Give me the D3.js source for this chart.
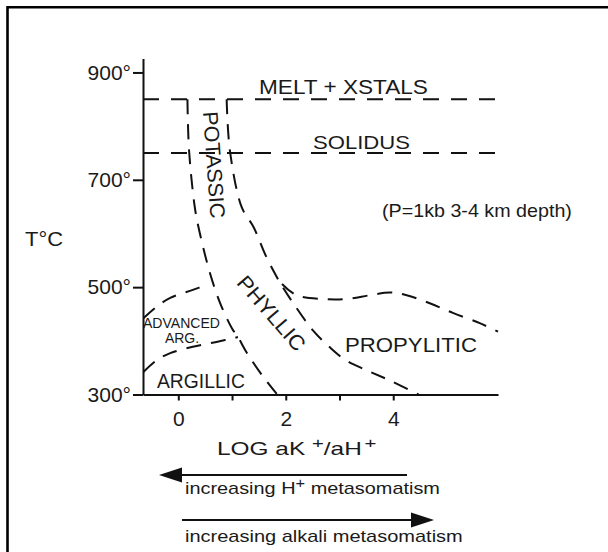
<!DOCTYPE html>
<html>
<head>
<meta charset="utf-8">
<script src="https://cdn.jsdelivr.net/npm/d3@7"></script>
<style>
  html, body { margin: 0; padding: 0; background: #fff; }
  svg { display: block; }
  text { font-family: "Liberation Sans", Arial, Helvetica, sans-serif; fill: #1a1a1a; }
</style>
</head>
<body>
<svg id="chart" width="608" height="552"></svg>
<script>
// Temperature (°C) and log activity ratio ticks
const tempTicks = [300, 500, 700, 900];
const logTicks = [0, 1, 2, 3, 4];
const logLabels = ["0", "", "2", "", "4"];

// Horizontal phase limits (°C)
const meltT = 850;
const solidusT = 750;

// Field boundaries as [log aK+/aH+, T°C]
const potassicLeft = [[0.17, 850], [0.2, 755], [0.31, 647], [0.4, 601], [0.59, 526], [0.78, 470], [1.0, 423], [1.11, 407], [1.28, 377], [1.58, 333], [1.84, 300]];
const potassicRight = [[0.9, 850], [0.96, 755], [1.18, 649], [1.4, 612], [1.64, 556], [1.89, 509], [2.14, 470], [2.51, 419], [2.82, 388], [3.13, 363], [3.51, 345], [3.94, 326], [4.47, 300]];
const propyliticTop = [[1.93, 506], [2.2, 485], [2.69, 478], [3.13, 478], [3.57, 485], [3.94, 490], [4.25, 485], [4.68, 470], [5.11, 452], [5.61, 433], [5.95, 417]];
const advArgTop = [[-0.65, 442], [-0.4, 464], [-0.15, 480], [0.27, 495], [0.55, 505]];
const advArgBottom = [[-0.65, 342], [-0.4, 364], [-0.15, 377], [0.27, 389], [0.71, 398], [1.11, 407]];

const svg = d3.select("#chart");

const x = d3.scaleLinear().domain([-0.657, 5.95]).range([143, 498]);
const y = d3.scaleLinear().domain([300, 926]).range([394.5, 58.5]);

// Frame
svg.append("path")
  .attr("d", "M7.5,552 V7.2 H608")
  .attr("fill", "none").attr("stroke", "#000").attr("stroke-width", 2.6);

// Text helper: places a label and optionally stretches it to a given width
function put(str, px, py, size, width, anchor = "start", rot = 0) {
  const g = svg.append("g").attr("transform", `translate(${px},${py}) rotate(${rot})`);
  const t = g.append("text").attr("font-size", size).attr("text-anchor", anchor);
  if (typeof str === "string") t.text(str); else str(t);
  if (width) {
    const w = t.node().getComputedTextLength();
    t.attr("transform", `scale(${width / w},1)`);
  }
  return t;
}

// Axes
const yAxis = d3.axisLeft(y).tickValues(tempTicks).tickFormat(d => d + "°")
  .tickSize(10).tickSizeOuter(0).tickPadding(2);
const xAxis = d3.axisBottom(x).tickValues(logTicks).tickFormat((d, i) => logLabels[i])
  .tickSize(6).tickSizeOuter(0).tickPadding(11);

const gy = svg.append("g").attr("transform", `translate(${x.range()[0]},0)`).call(yAxis);
const gx = svg.append("g").attr("transform", `translate(0,${y(300)})`).call(xAxis);
[gy, gx].forEach(g => {
  g.select(".domain").attr("stroke", "#111").attr("stroke-width", 2);
  g.selectAll(".tick line").attr("stroke", "#111").attr("stroke-width", 2);
  g.selectAll(".tick text").attr("font-size", 21).attr("fill", "#1a1a1a")
    .style("font-family", '"Liberation Sans", Arial, Helvetica, sans-serif');
});

// Boundaries
const line = d3.line().x(d => x(d[0])).y(d => y(d[1])).curve(d3.curveCatmullRom.alpha(0.5));
const dashed = (data, dash = "15,10") => svg.append("path").datum(data)
  .attr("d", line).attr("fill", "none").attr("stroke", "#111")
  .attr("stroke-width", 2).attr("stroke-dasharray", dash);

const xEnd = x.invert(500);
dashed([[x.domain()[0], meltT], [xEnd, meltT]], "16,12");
dashed([[x.domain()[0], solidusT], [xEnd, solidusT]], "16,12");
dashed(potassicLeft);
dashed(potassicRight);
dashed(propyliticTop);
dashed(advArgTop);
dashed(advArgBottom);

// Field labels
put("MELT + XSTALS", 259, 94, 20, 169);
put("SOLIDUS", 313, 149, 19, 97);
put("(P=1kb 3-4 km depth)", 382, 217, 18, 190);
put("T°C", 25, 246, 21, 38);
put("POTASSIC", 203, 112, 21, 107, "start", 86);
put("PHYLLIC", 266, 318, 21, 92, "middle", 49);
put("PROPYLITIC", 345, 352, 21, 132);
put("ADVANCED", 143, 328, 14, 77);
put("ARG.", 182, 343, 14, null, "middle");
put("ARGILLIC", 157, 388, 20, 88);

// Axis title with superscripts
put(t => {
  t.append("tspan").text("LOG aK");
  t.append("tspan").attr("dx", 5).attr("dy", -7).attr("font-size", 15).text("+");
  t.append("tspan").attr("dy", 7).text("/aH");
  t.append("tspan").attr("dx", 2).attr("dy", -7).attr("font-size", 15).text("+");
}, 217, 455, 18, 150);

// Direction arrows
function arrow(x0, x1, yy) {
  const dir = Math.sign(x1 - x0);
  const base = x1 - dir * 23;
  svg.append("line").attr("x1", x0).attr("x2", base).attr("y1", yy).attr("y2", yy)
    .attr("stroke", "#111").attr("stroke-width", 2);
  svg.append("path")
    .attr("d", `M${x1},${yy} L${base},${yy - 7.5} L${base},${yy + 7.5} Z`)
    .attr("fill", "#111");
}
arrow(407, 159, 475);
arrow(182, 434, 520);

put(t => {
  t.append("tspan").text("increasing H");
  t.append("tspan").attr("dy", -6).attr("font-size", 14).text("+");
  t.append("tspan").attr("dy", 6).text(" metasomatism");
}, 185, 494, 17, 255);
put("increasing alkali metasomatism", 185, 542, 17, 278);
</script>
</body>
</html>
